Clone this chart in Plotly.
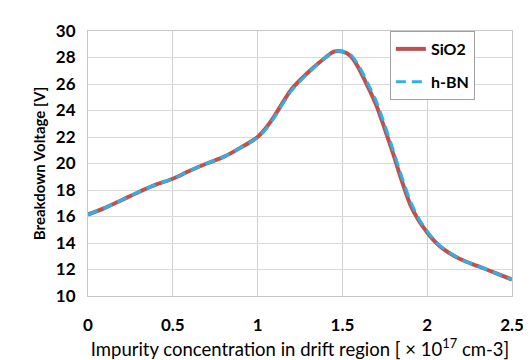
import plotly.graph_objects as go

conc = [0, 0.1, 0.2, 0.3, 0.4, 0.5, 0.6, 0.7, 0.8, 0.9, 1.0, 1.05, 1.1, 1.2, 1.3, 1.4, 1.45, 1.5, 1.55, 1.6, 1.65, 1.7, 1.75, 1.8, 1.85, 1.9, 1.95, 2.0, 2.05, 2.1, 2.2, 2.3, 2.4, 2.5]
sio2 = [16.15, 16.65, 17.25, 17.85, 18.4, 18.85, 19.45, 20.0, 20.5, 21.2, 22.0, 22.7, 23.6, 25.6, 26.9, 28.0, 28.45, 28.45, 28.1, 27.1, 25.8, 24.4, 22.6, 20.7, 18.7, 16.9, 15.7, 14.8, 14.05, 13.5, 12.75, 12.25, 11.75, 11.24]
hbn = [16.15, 16.65, 17.25, 17.85, 18.4, 18.85, 19.45, 20.0, 20.5, 21.2, 21.95, 22.6, 23.5, 25.5, 26.85, 28.0, 28.45, 28.45, 28.2, 27.3, 26.05, 24.7, 22.9, 21.0, 19.0, 17.2, 15.85, 14.9, 14.1, 13.55, 12.75, 12.25, 11.75, 11.24]

x_ticks = [0, 0.5, 1, 1.5, 2, 2.5]
x_tick_labels = ["0", "0.5", "1", "1.5", "2", "2.5"]
y_ticks = [10, 12, 14, 16, 18, 20, 22, 24, 26, 28, 30]

FONT = "Lato"

fig = go.Figure()
fig.add_trace(go.Scatter(x=conc, y=sio2, name="<b>SiO2</b>", mode="lines",
                         legendgroup="a",
                         line=dict(color="#c0504d", width=4, shape="spline", smoothing=0.8)))
fig.add_trace(go.Scatter(x=conc, y=hbn, name="<b>h-BN</b>", mode="lines",
                         legendgroup="b",
                         line=dict(color="#2eb2e6", width=3, dash="10px,6px", shape="spline", smoothing=0.8)))

fig.update_layout(
    width=531, height=360,
    margin=dict(l=80, r=27, t=15, b=63),
    paper_bgcolor="white", plot_bgcolor="white",
    font=dict(family=FONT, color="#000000"),
    showlegend=True,
    legend=dict(x=0.712, y=1.0, xanchor="left", yanchor="top",
                bgcolor="white", bordercolor="#a0a0a0", borderwidth=1,
                font=dict(family=FONT, size=16, color="#000000"),
                itemwidth=30, traceorder="grouped", tracegroupgap=9),
    xaxis=dict(range=[0, 2.5], tickvals=x_ticks, ticktext=["<b>%s</b>" % t for t in x_tick_labels],
               showgrid=True, gridcolor="#d0d0d0", gridwidth=1,
               showline=True, linecolor="#c8c8c8", mirror=True,
               ticks="outside", ticklen=14, tickcolor="rgba(0,0,0,0)",
               tickfont=dict(family=FONT, size=17, color="#000"),
               zeroline=False,
               title=dict(text="Impurity concentration in drift region [ × 10<sup>17</sup> cm-3]",
                          font=dict(family=FONT, size=18.5, color="#000"), standoff=8)),
    yaxis=dict(range=[10, 30], tickvals=y_ticks, ticktext=["<b>%d</b>" % v for v in y_ticks],
               showgrid=True, gridcolor="#d9d9d9", gridwidth=1,
               showline=True, linecolor="#c8c8c8", mirror=True,
               ticks="outside", ticklen=8, tickcolor="rgba(0,0,0,0)",
               tickfont=dict(family=FONT, size=17, color="#000"),
               zeroline=False,
               title=dict(text="<b>Breakdown Voltage [V]</b>",
                          font=dict(family=FONT, size=15, color="#000"), standoff=6)),
)

fig.write_html("out.html")
